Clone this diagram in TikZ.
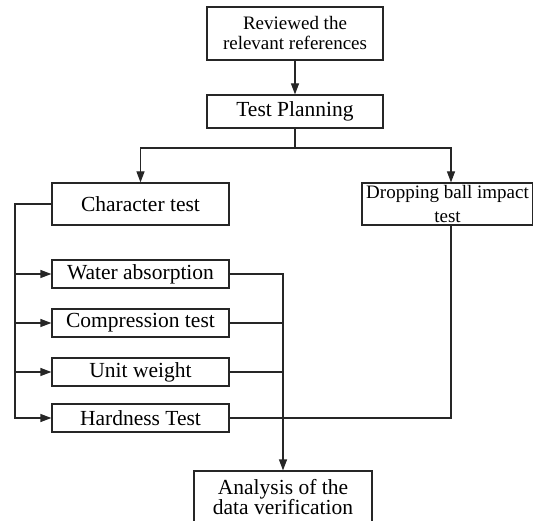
\documentclass[tikz,border=0pt]{standalone}
\usepackage{fontspec}
\setmainfont{Liberation Serif}
\usetikzlibrary{arrows.meta}

\begin{document}
\begin{tikzpicture}[x=1pt,y=-1pt,
box/.style={draw=black!85,line width=1.2pt,fill=white,inner sep=0pt,align=center,font=\fontsize{21.5}{20}\selectfont},
smallbox/.style={box,font=\fontsize{19}{20}\selectfont},
testbox/.style={box,minimum width=177pt,minimum height=28pt},
link/.style={black!85,line width=1.2pt},
arr/.style={link,-{Triangle[length=11pt,width=8pt]}}]

\useasboundingbox (0,0) rectangle (533,521);

\node (ref) at (295,33.5) [smallbox,minimum width=176pt,minimum height=53pt] {Reviewed the\\relevant references};
\node (plan) at (295,111.5) [box,minimum width=176pt,minimum height=33pt] {Test Planning};

\node (char) at (140.5,204) [box,minimum width=177pt,minimum height=42pt] {Character test};
\node (drop) at (447.5,204) [smallbox,font=\fontsize{19}{24}\selectfont,minimum width=171pt,minimum height=42pt] {Dropping ball impact\\test};

\node (water) at (140.5,274) [testbox] {Water absorption};
\node (comp) at (140.5,323) [testbox] {Compression test};
\node (unit) at (140.5,372) [testbox] {Unit weight};
\node (hard) at (140.5,418) [testbox] {Hardness Test};

\node (anal) at (283,497) [box,minimum width=178pt,minimum height=52pt] {Analysis of the\\data verification};

\coordinate (split) at (295,148);
\coordinate (lb) at (15,204);

\draw [arr] (ref) -- (plan);
\draw [link] (plan) -- (split);
\draw [arr] (split) -| (char);
\draw [arr] (split) -| ([xshift=3.5pt]drop.north);

\draw [arr] (char) -- (lb) |- (hard);
\foreach \n in {water,comp,unit}
  \draw [arr] (lb |- \n) -- (\n);

\draw [arr] (water) -| (anal);
\foreach \n in {comp,unit}
  \draw [link] (\n) -- (\n -| anal);
\draw [link] ([xshift=3.5pt]drop.south) |- (hard);

\end{tikzpicture}
\end{document}
